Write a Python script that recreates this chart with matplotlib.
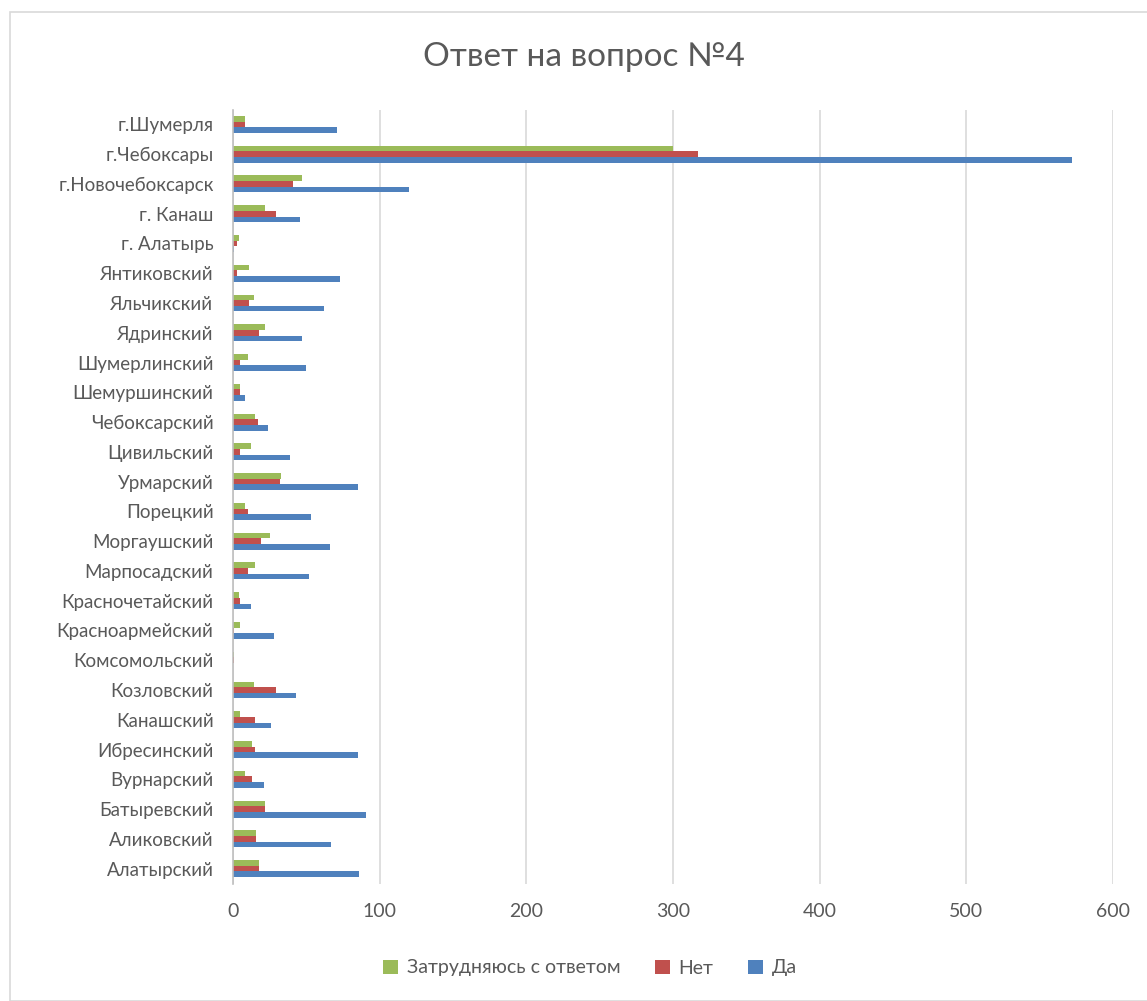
import matplotlib
matplotlib.use("Agg")
import matplotlib.pyplot as plt
import numpy as np
from matplotlib.patches import Rectangle

categories = ["г.Шумерля", "г.Чебоксары", "г.Новочебоксарск", "г. Канаш", "г. Алатырь",
              "Янтиковский", "Яльчикский", "Ядринский", "Шумерлинский", "Шемуршинский",
              "Чебоксарский", "Цивильский", "Урмарский", "Порецкий", "Моргаушский",
              "Марпосадский", "Красночетайский", "Красноармейский", "Комсомольский",
              "Козловский", "Канашский", "Ибресинский", "Вурнарский", "Батыревский",
              "Аликовский", "Алатырский"]
da = [71, 572, 120, 46, 1, 73, 62, 47, 50, 8, 24, 39, 85, 53, 66, 52, 12, 28, 0,
      43, 26, 85, 21, 91, 67, 86]
net = [8, 317, 41, 29, 3, 3, 11, 18, 5, 5, 17, 5, 32, 10, 19, 10, 5, 1, 1,
       29, 15, 15, 13, 22, 16, 18]
zatr = [8, 300, 47, 22, 4, 11, 14, 22, 10, 5, 15, 12, 33, 8, 25, 15, 4, 5, 1,
        14, 5, 13, 8, 22, 16, 18]
series_names = ["Да", "Нет", "Затрудняюсь с ответом"]
colors = ["#4F81BD", "#C0504D", "#9BBB59"]
xticks = [0, 100, 200, 300, 400, 500, 600]

plt.rcParams['font.family'] = ['Lato', 'DejaVu Sans']
txt = "#595959"

fig = plt.figure(figsize=(11.47, 10.01), dpi=100)
fig.patches.append(Rectangle((10/1147, 0), 1.2, 1 - 12/1001, transform=fig.transFigure,
                             fill=False, edgecolor="#D9D9D9", linewidth=1.2))
ax = fig.add_axes([233/1147, 1 - 883.5/1001, (1113 - 233)/1147, (883.5 - 109.5)/1001])

n = len(categories)
y = np.arange(n)[::-1].astype(float)
h = 0.19
vals = [da, net, zatr]
offsets = [-h, 0, h]
for v, c, off, name in zip(vals, colors, offsets, series_names):
    ax.barh(y + off, v, height=h, color=c, label=name, zorder=3)

ax.set_ylim(-0.5, n - 0.5)
ax.set_xlim(0, 600)
ax.set_xticks(xticks)
ax.set_yticks(y)
ax.set_yticklabels(categories, fontsize=13.5, color=txt)
ax.tick_params(axis='x', labelsize=14, colors=txt, length=0, pad=14)
ax.tick_params(axis='y', length=0, pad=14)
ax.grid(axis='x', color="#D9D9D9", linewidth=1.2, zorder=0)
for s in ["top", "right", "bottom"]:
    ax.spines[s].set_visible(False)
ax.spines["left"].set_color("#BFBFBF")
ax.spines["left"].set_linewidth(1.2)
ax.spines["left"].set_zorder(4)

fig.text(584/1147, 1 - 57/1001, "Ответ на вопрос №4", ha="center", va="center",
         fontsize=24, color=txt)

handles, labels = ax.get_legend_handles_labels()
leg = fig.legend(handles[::-1], labels[::-1], loc="center", bbox_to_anchor=(590/1147, 1 - 968/1001),
                 ncol=3, frameon=False, fontsize=14, handlelength=0.75, handleheight=0.75,
                 columnspacing=1.8, handletextpad=0.45)
for t in leg.get_texts():
    t.set_color(txt)

fig.savefig("out.png", dpi=100)
